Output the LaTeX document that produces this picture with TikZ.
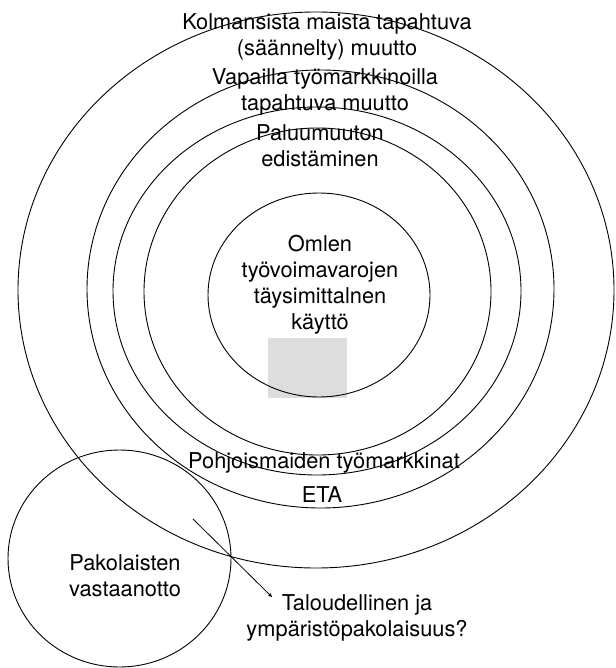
\documentclass[tikz,border=0pt]{standalone}
\usepackage{fontspec}
\setmainfont{TeX Gyre Heros}
\usetikzlibrary{arrows,positioning}
\usetikzlibrary{shapes.geometric}
\usetikzlibrary{backgrounds}
\definecolor{scan_gray}{HTML}{DDDDDD}

\begin{document}
\begin{tikzpicture}[
	    x=1pt, y=-1pt,
	    background rectangle/.style={fill=white}, show background rectangle, inner frame sep=0pt,
	    ring/.style={ellipse, draw, line width=0.9pt, inner sep=0pt},
	    ringtext/.style={align=center, font=\fontsize{21.8}{26}\selectfont},
	    graypatch/.style={rectangle, fill=scan_gray, inner sep=0pt},
	    normalline/.style={->, >=stealth, line width=0.8pt},
	]
		\useasboundingbox (0,0) rectangle (615,668);

		\node[ring, minimum width=596pt, minimum height=556pt] (kolmasring) at (316, 290) {};
        \node[ring, minimum width=467pt, minimum height=438pt] (vapaaring) at (320.5, 289) {};
        \node[ring, minimum width=408pt, minimum height=368pt] (etaring) at (317, 291) {};
        \node[ring, minimum width=347pt, minimum height=327pt] (pohjolaring) at (317.5, 291.5) {};
        \node[graypatch, minimum width=79pt, minimum height=60pt] (patch) at (307.5, 368) {};
        \node[ring, minimum width=222pt, minimum height=204pt] (omatring) at (319, 295) {};
        \node[ring, minimum width=223pt, minimum height=217pt] (pakoring) at (119.5, 558.5) {};

        \node[ringtext] (kolmas) at (327, 37) {Kolmansista maista tapahtuva\\(säännelty) muutto};
        \node[ringtext] (vapaa) at (325, 92) {Vapailla työmarkkinoilla\\tapahtuva muutto};
        \node[ringtext] (paluu) at (320, 146) {Paluumuuton\\edistäminen};
        \node[ringtext] (omat) at (320, 285) {Omlen\\työvoimavarojen\\täysimittalnen\\käyttö};
        \node[ringtext] (pohjola) at (324, 463) {Pohjoismaiden työmarkkinat};
        \node[ringtext] (eta) at (322, 495) {ETA};
        \node[ringtext] (pakolaiset) at (125, 576) {Pakolaisten\\vastaanotto};
        \node[ringtext] (talous) at (357, 618) {Taloudellinen ja\\ympäristöpakolaisuus?};

        \coordinate (arrowstart) at (193, 519);
        \coordinate (arrowend) at (272, 597);
        \draw [normalline] (arrowstart) -- (arrowend);
	\end{tikzpicture}
\end{document}
